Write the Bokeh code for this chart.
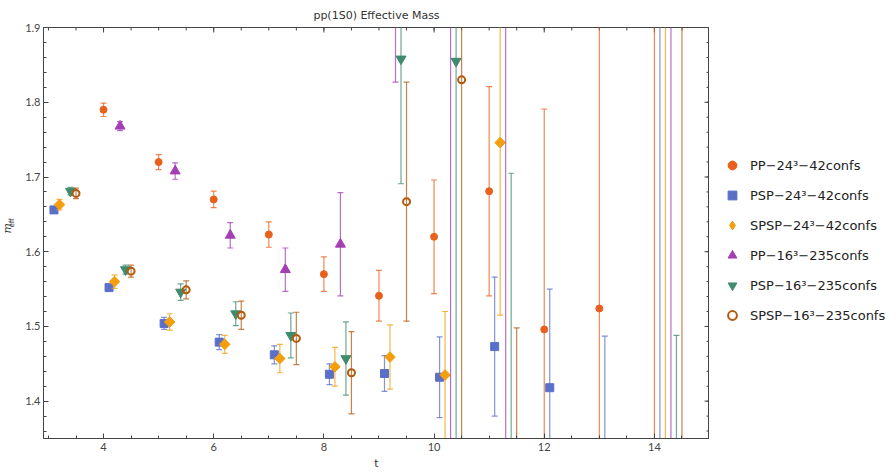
import numpy as np

from bokeh.core.properties import value
from bokeh.embed import file_html
from bokeh.layouts import row
from bokeh.models import (ColumnDataSource, Legend, LegendItem, Range1d,
                          SingleIntervalTicker)
from bokeh.plotting import figure
from bokeh.resources import INLINE

# Effective mass per timeslice t, with statistical errors, for each correlator
t_pp24 = [4, 5, 6, 7, 8, 9, 10, 11, 12, 13, 14]
m_pp24 = [1.790, 1.720, 1.670, 1.623, 1.570, 1.541, 1.620, 1.681, 1.496, 1.524, 1.30]
e_pp24 = [0.009, 0.010, 0.011, 0.017, 0.023, 0.034, 0.076, 0.140, 0.295, 0.60, 0.90]

t_psp24 = [3, 4, 5, 6, 7, 8, 9, 10, 11, 12, 13, 14]
m_psp24 = [1.656, 1.552, 1.504, 1.479, 1.462, 1.436, 1.437, 1.432, 1.473, 1.418, 1.25, 1.20]
e_psp24 = [0.003, 0.004, 0.008, 0.010, 0.012, 0.014, 0.024, 0.054, 0.093, 0.132, 0.237, 0.90]

t_spsp24 = [3, 4, 5, 6, 7, 8, 9, 10, 11, 14]
m_spsp24 = [1.663, 1.560, 1.506, 1.476, 1.457, 1.446, 1.459, 1.435, 1.746, 1.20]
e_spsp24 = [0.007, 0.009, 0.011, 0.012, 0.019, 0.026, 0.043, 0.085, 0.231, 0.90]

t_pp16 = [4, 5, 6, 7, 8, 9, 10, 11, 14]
m_pp16 = [1.768, 1.708, 1.622, 1.576, 1.610, 1.970, 2.05, 1.25, 1.10]
e_pp16 = [0.006, 0.011, 0.017, 0.029, 0.069, 0.143, 0.75, 0.80, 1.00]

t_psp16 = [3, 4, 5, 6, 7, 8, 9, 10, 11, 14]
m_psp16 = [1.681, 1.576, 1.546, 1.517, 1.488, 1.457, 1.858, 1.855, 1.30, 1.10]
e_psp16 = [0.005, 0.006, 0.011, 0.016, 0.030, 0.049, 0.167, 0.60, 0.405, 0.388]

t_spsp16 = [3, 4, 5, 6, 7, 8, 9, 10, 11, 14]
m_spsp16 = [1.678, 1.574, 1.549, 1.515, 1.484, 1.438, 1.667, 1.830, 1.22, 1.30]
e_spsp16 = [0.007, 0.008, 0.012, 0.019, 0.035, 0.055, 0.160, 0.50, 0.278, 0.90]

names = ["PP−24³−42confs", "PSP−24³−42confs", "SPSP−24³−42confs",
         "PP−16³−235confs", "PSP−16³−235confs", "SPSP−16³−235confs"]

FONT = "DejaVu Sans"
TICK_FONT = "Lato"
AXIS_COLOR = "#444444"
X0, X1 = 2.91, 15.0
Y0, Y1 = 1.35, 1.9001
H = 473

# plot marker, and the marker used for the legend key (legend keys ignore angle)
series = [
    dict(t=t_pp24, m=m_pp24, e=e_pp24, shift=0.0, marker="circle", key="circle", size=7,
         angle=0, color="#E8601C", filled=True),
    dict(t=t_psp24, m=m_psp24, e=e_psp24, shift=0.1, marker="square", key="square", size=8,
         angle=0, color="#5A6FC8", filled=True),
    dict(t=t_spsp24, m=m_spsp24, e=e_spsp24, shift=0.2, marker="square", key="diamond",
         size=7.5, angle=np.pi / 4, color="#F39E0C", filled=True),
    dict(t=t_pp16, m=m_pp16, e=e_pp16, shift=0.3, marker="triangle", key="triangle", size=10,
         angle=0, color="#A33FB2", filled=True),
    dict(t=t_psp16, m=m_psp16, e=e_psp16, shift=0.4, marker="inverted_triangle",
         key="inverted_triangle", size=10, angle=0, color="#3F8B6E", filled=True),
    dict(t=t_spsp16, m=m_spsp16, e=e_spsp16, shift=0.5, marker="circle", key="circle", size=7,
         angle=0, color="#B35A0C", filled=False),
]


def bare_figure(width):
    """A pixel-scaled, axis-free strip used for side texts."""
    f = figure(width=width, height=H, x_range=Range1d(0, width), y_range=Range1d(0, H),
               output_backend="svg", toolbar_location=None,
               x_axis_location=None, y_axis_location=None,
               min_border_left=0, min_border_right=0, min_border_top=0, min_border_bottom=0)
    f.xgrid.visible = False
    f.ygrid.visible = False
    f.outline_line_color = None
    return f


# ---- y-axis title strip: italic m with subscript "eff" -------------------------
ylab = bare_figure(21)
ylab.text(x=[6.5], y=[H - 231], text=["m"], angle=np.pi / 2,
          text_font=value("DejaVu Serif"), text_font_style="italic", text_font_size="11px",
          text_color="#333333", text_align="center", text_baseline="middle")
ylab.text(x=[11], y=[H - 225], text=["eff"], angle=np.pi / 2,
          text_font=value(FONT), text_font_size="7px",
          text_color="#333333", text_align="center", text_baseline="middle")

# ---- main plot ------------------------------------------------------------------
p = figure(frame_width=666, frame_height=411, x_range=Range1d(X0, X1),
           y_range=Range1d(Y0, Y1), output_backend="svg", toolbar_location=None,
           min_border_left=22, min_border_right=0, min_border_top=27, min_border_bottom=35)

p.title.text = "pp(1S0) Effective Mass"
p.title.align = "center"
p.title.vertical_align = "middle"
p.title.text_font = FONT
p.title.text_font_size = "11px"
p.title.text_font_style = "normal"
p.title.text_color = "#333333"

p.xgrid.visible = False
p.ygrid.visible = False
p.outline_line_color = AXIS_COLOR
p.outline_line_width = 1

for ax, ticker in ((p.xaxis[0], SingleIntervalTicker(interval=2, num_minor_ticks=4)),
                   (p.yaxis[0], SingleIntervalTicker(interval=0.1, num_minor_ticks=5))):
    ax.ticker = ticker
    ax.axis_line_color = AXIS_COLOR
    ax.major_tick_line_color = AXIS_COLOR
    ax.minor_tick_line_color = AXIS_COLOR
    ax.major_tick_in = 5
    ax.major_tick_out = 0
    ax.minor_tick_in = 3
    ax.minor_tick_out = 0
    ax.major_label_text_font = TICK_FONT
    ax.major_label_text_font_size = "11px"
    ax.major_label_text_color = AXIS_COLOR

p.xaxis.major_label_standoff = 4
p.yaxis.major_label_standoff = 3
p.xaxis.axis_label = "t"
p.xaxis.axis_label_text_font = FONT
p.xaxis.axis_label_text_font_style = "normal"
p.xaxis.axis_label_text_font_size = "11px"
p.xaxis.axis_label_text_color = "#333333"
p.xaxis.axis_label_standoff = 3

# inward ticks on the top and right edges of the frame (half of each dash is clipped)
top_major = np.arange(4, 15, 2)
top_minor = np.arange(3, 15.01, 0.5)
right_major = np.arange(1.4, 1.91, 0.1)
right_minor = np.arange(1.36, 1.90, 0.02)
p.scatter(x=top_minor, y=[Y1] * len(top_minor), marker="dash", angle=np.pi / 2, size=6,
          line_color=AXIS_COLOR, line_width=1)
p.scatter(x=top_major, y=[Y1] * len(top_major), marker="dash", angle=np.pi / 2, size=10,
          line_color=AXIS_COLOR, line_width=1)
p.scatter(x=[X1] * len(right_minor), y=right_minor, marker="dash", size=6,
          line_color=AXIS_COLOR, line_width=1)
p.scatter(x=[X1] * len(right_major), y=right_major, marker="dash", size=10,
          line_color=AXIS_COLOR, line_width=1)

# ---- legend strip -------------------------------------------------------------
leg = bare_figure(180)
legend_items = []


def point_style(s, marker):
    if s["filled"]:
        return dict(marker=marker, size=s["size"], angle=s["angle"],
                    fill_color=s["color"], line_color=s["color"])
    return dict(marker=marker, size=s["size"], fill_color=None,
                line_color=s["color"], line_width=2)


for name, s in zip(names, series):
    xs = [t + s["shift"] for t in s["t"]]
    lo = [m - e for m, e in zip(s["m"], s["e"])]
    hi = [m + e for m, e in zip(s["m"], s["e"])]
    src = ColumnDataSource(dict(x=xs, m=s["m"], lo=lo, hi=hi))
    p.segment(x0="x", x1="x", y0="lo", y1="hi", source=src,
              line_color=s["color"], line_alpha=0.75, line_width=1.2)
    p.scatter(x="x", y="lo", source=src, marker="dash", size=6,
              line_color=s["color"], line_alpha=0.75, line_width=1.2)
    p.scatter(x="x", y="hi", source=src, marker="dash", size=6,
              line_color=s["color"], line_alpha=0.75, line_width=1.2)
    p.scatter(x="x", y="m", source=src, **point_style(s, s["marker"]))
    # key glyph only: a single undrawable (NaN) point so the legend has a sample
    key = leg.scatter(x=[np.nan], y=[np.nan], **point_style(s, s["key"]))
    legend_items.append(LegendItem(label=name, renderers=[key]))

legend = Legend(items=legend_items, location=(12, 111), border_line_color=None,
                background_fill_alpha=0, label_text_font=FONT, label_text_font_size="13px",
                label_text_color="#222222", glyph_width=22, glyph_height=24,
                label_height=24, spacing=6, padding=8, margin=0, label_standoff=7)
leg.add_layout(legend)

layout = row(ylab, p, leg, spacing=0)
open("out.html", "w").write(file_html(layout, INLINE))
